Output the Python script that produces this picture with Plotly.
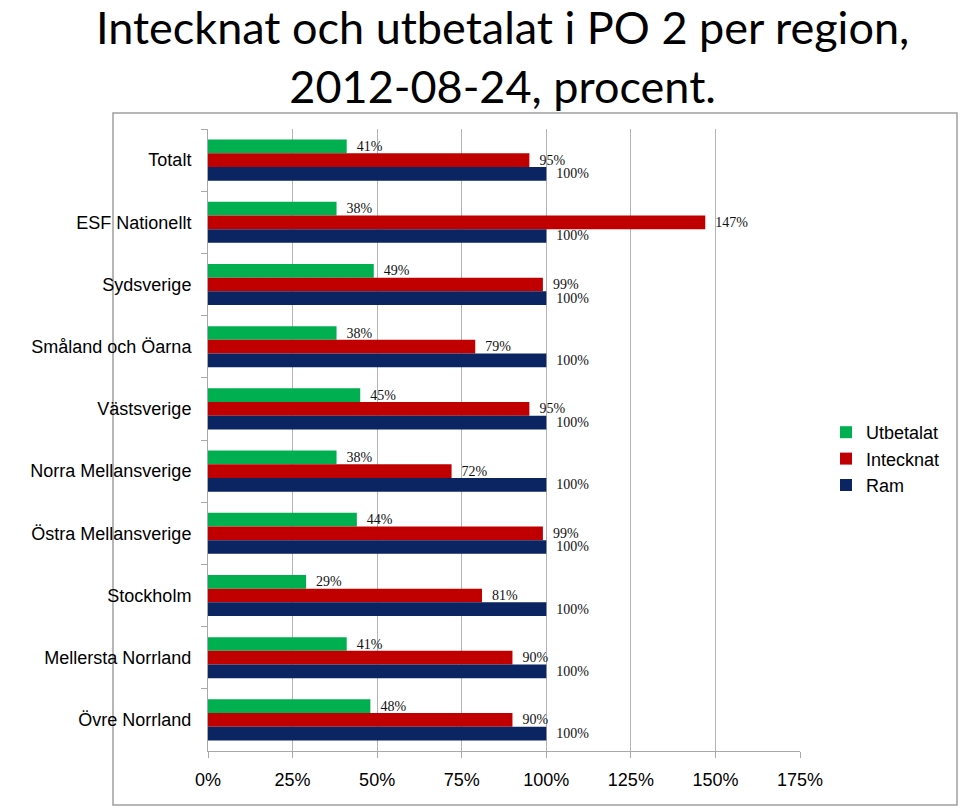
import plotly.graph_objects as go

categories = ["Totalt", "ESF Nationellt", "Sydsverige", "Småland och Öarna", "Västsverige",
              "Norra Mellansverige", "Östra Mellansverige", "Stockholm",
              "Mellersta Norrland", "Övre Norrland"]
utbetalat = [41, 38, 49, 38, 45, 38, 44, 29, 41, 48]
intecknat = [95, 147, 99, 79, 95, 72, 99, 81, 90, 90]
ram = [100, 100, 100, 100, 100, 100, 100, 100, 100, 100]
x_ticks = [0, 25, 50, 75, 100, 125, 150, 175]
x_tick_labels = [f"{v}%" for v in x_ticks]

series = [("Utbetalat", utbetalat, "#00B050"),
          ("Intecknat", intecknat, "#C00000"),
          ("Ram", ram, "#0A2562")]

fig = go.Figure()
for name, vals, col in series:
    fig.add_trace(go.Bar(
        y=categories, x=vals, name=name, orientation="h",
        marker=dict(color=col, line=dict(width=0)),
        texttemplate="\u00a0\u00a0%{x:.0f}%", textposition="outside",
        textfont=dict(family="Liberation Serif", size=14, color="#111"),
        constraintext="none", cliponaxis=False,
    ))

L, R, T, B = 208, 800, 129, 751
W, H = 960, 809
pw, ph = R - L, B - T

def px(x):
    return (x - L) / pw

def py(y):
    return (B - y) / ph

fig.update_layout(
    width=W, height=H,
    margin=dict(l=L, r=W - R, t=T, b=H - B),
    paper_bgcolor="white", plot_bgcolor="white",
    barmode="group", bargap=0.34, bargroupgap=0,
    showlegend=True,
    legend=dict(xref="container", yref="container", x=826 / W, y=1 - 414 / H,
                xanchor="left", yanchor="top",
                font=dict(family="Liberation Sans", size=18, color="black"),
                traceorder="normal", itemwidth=30, bgcolor="rgba(0,0,0,0)"),
    xaxis=dict(range=[0, 175], tickmode="array", tickvals=x_ticks, ticktext=x_tick_labels,
               showgrid=True, gridcolor="#b4b4b4", gridwidth=1,
               showline=True, linecolor="#a8a8a8", linewidth=1,
               ticks="outside", ticklen=6, tickcolor="#a8a8a8",
               tickfont=dict(family="Liberation Sans", size=18, color="black"),
               ticklabelstandoff=6, automargin=False,
               zeroline=False, fixedrange=True),
    yaxis=dict(autorange="reversed", type="category",
               showgrid=False, showline=True, linecolor="#a8a8a8", linewidth=1,
               ticks="outside", ticklen=6, tickcolor="#a8a8a8", tickson="boundaries",
               tickfont=dict(family="Liberation Sans", size=18, color="black"),
               ticklabelstandoff=12, automargin=False, fixedrange=True),
    shapes=[dict(type="rect", xref="paper", yref="paper",
                 x0=px(113), x1=px(957), y0=py(805), y1=py(113),
                 line=dict(color="#a0a0a0", width=1.5), fillcolor="rgba(0,0,0,0)",
                 layer="below")],
    annotations=[dict(text="Intecknat och utbetalat i PO 2 per region,<br>2012-08-24, procent.",
                      xref="paper", yref="paper", x=px(502), y=py(-2),
                      xanchor="center", yanchor="top", showarrow=False,
                      font=dict(family="Lato", size=45, color="black"))],
)

fig.write_html("out.html", config={"displayModeBar": False},
               post_script="document.body.style.margin='0';")
